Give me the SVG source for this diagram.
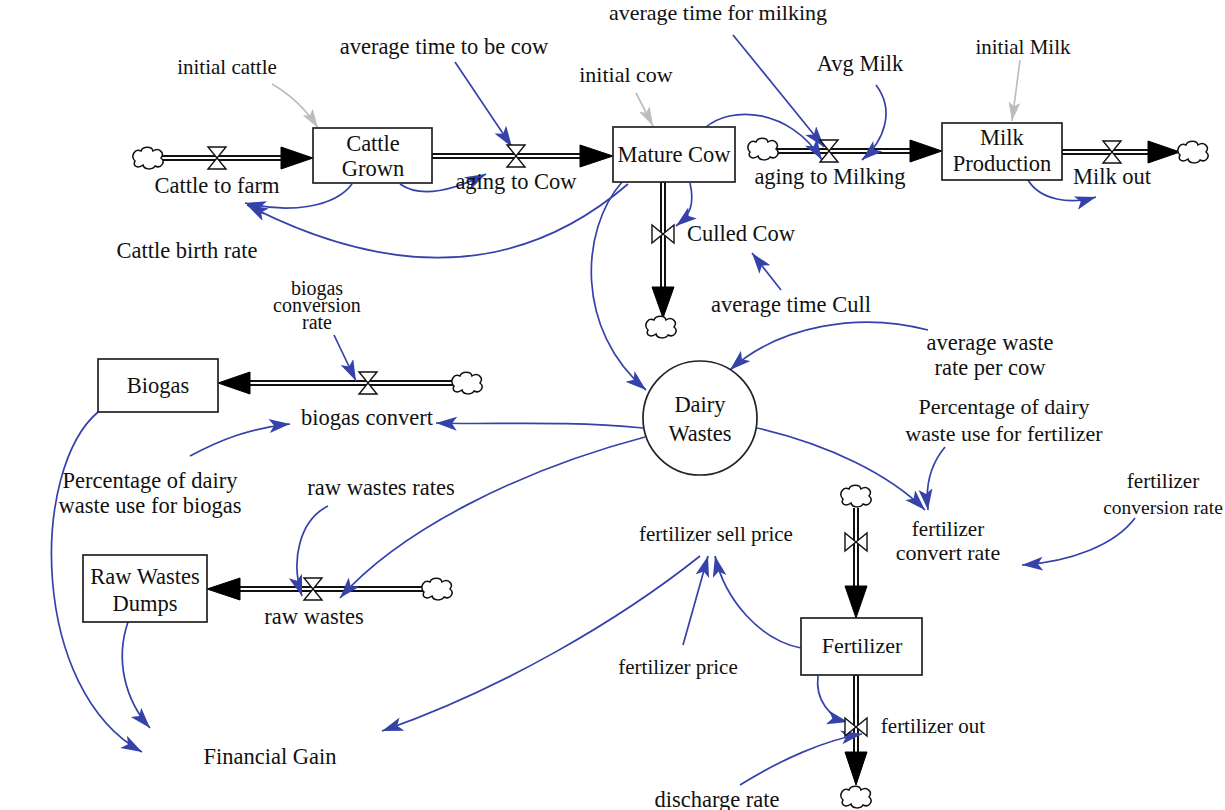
<svg xmlns="http://www.w3.org/2000/svg" width="1225" height="810" viewBox="0 0 1225 810">
  <defs>
    <style>
      text { font-family: "Liberation Serif", "Times New Roman", serif; font-size: 22.5px; fill: #111; text-anchor: middle; }
      .n { font-size: 21px; }
      .m { font-size: 22px; }
      .s { font-size: 19.5px; }
      .stack { font-size: 20px; }
      .stock { fill: #fff; stroke: #222; stroke-width: 1.7; }
      .aux { fill: #fff; stroke: #222; stroke-width: 1.7; }
      .pipe-out { fill: none; stroke: #111; stroke-width: 6; }
      .pipe-in { fill: none; stroke: #fff; stroke-width: 2; }
      .pipe-head { fill: #000; stroke: #000; stroke-width: 1; }
      .valve { fill: #fff; stroke: #111; stroke-width: 1.4; }
      .cloud { fill: #fff; stroke: #111; stroke-width: 1.5; }
      .link { fill: none; stroke: #3442aa; stroke-width: 1.7; marker-end: url(#blueHead); }
      .init { fill: none; stroke: #bdbdbd; stroke-width: 1.7; marker-end: url(#grayHead); }
    </style>
    <marker id="blueHead" markerUnits="userSpaceOnUse" markerWidth="24" markerHeight="16" refX="21" refY="7" orient="auto">
      <path d="M0,0 L21,7 L0,14 L5,7 Z" fill="#3442aa"/>
    </marker>
    <marker id="grayHead" markerUnits="userSpaceOnUse" markerWidth="24" markerHeight="16" refX="19" refY="6" orient="auto">
      <path d="M0,0 L19,6 L0,12 L4,6 Z" fill="#bdbdbd"/>
    </marker>
    <path id="cloudShape" class="cloud" d="M-13,3 C-18,-2 -13,-10 -7,-7 C-5,-12 4,-12 5,-7 C11,-11 17,-5 13,0 C18,4 13,11 7,8 C5,12 -4,12 -5,7 C-10,11 -16,8 -13,3 Z"/>
  </defs>

  <rect width="1225" height="810" fill="#fff"/>

  <!-- material flow pipes and information links -->
  <g id="connectors">
    <!-- pipes -->
    <path class="pipe-out" d="M162,158 H283"/><path class="pipe-in" d="M162,158 H283"/>
    <polygon class="pipe-head" points="281,147 313,158 281,169"/>
    <path class="pipe-out" d="M432,156 H582"/><path class="pipe-in" d="M433,156 H582"/>
    <polygon class="pipe-head" points="580,145 613,156 580,167"/>
    <path class="pipe-out" d="M777,151 H912"/><path class="pipe-in" d="M777,151 H912"/>
    <polygon class="pipe-head" points="910,140 942,151 910,162"/>
    <path class="pipe-out" d="M1062,152 H1150"/><path class="pipe-in" d="M1063,152 H1150"/>
    <polygon class="pipe-head" points="1148,141 1180,152 1148,163"/>
    <path class="pipe-out" d="M663,182 V289"/><path class="pipe-in" d="M663,183 V289"/>
    <polygon class="pipe-head" points="652,287 663,318 674,287"/>
    <path class="pipe-out" d="M453,383 H248"/><path class="pipe-in" d="M453,383 H248"/>
    <polygon class="pipe-head" points="250,372 218,383 250,394"/>
    <path class="pipe-out" d="M423,589 H238"/><path class="pipe-in" d="M423,589 H238"/>
    <polygon class="pipe-head" points="240,578 207,589 240,600"/>
    <path class="pipe-out" d="M856,508 V588"/><path class="pipe-in" d="M856,508 V588"/>
    <polygon class="pipe-head" points="845,586 856,618 867,586"/>
    <path class="pipe-out" d="M856,675 V755"/><path class="pipe-in" d="M856,676 V755"/>
    <polygon class="pipe-head" points="845,752 856,785 867,752"/>

    <!-- initial values -->
    <path class="init" d="M272,84 Q300,100 318,128"/>
    <path class="init" d="M636,93 L653,126"/>
    <path class="init" d="M1020,60 L1012,121"/>

    <!-- causal links -->
    <path class="link" d="M352,184 C335,207 290,214 245,203"/>
    <path class="link" d="M628,184 Q470,320 247,205"/>
    <path class="link" d="M400,184 C420,198 450,192 486,174"/>
    <path class="link" d="M455,62 L512,147"/>
    <path class="link" d="M733,35 L824,147"/>
    <path class="link" d="M876,85 C895,110 885,140 862,160"/>
    <path class="link" d="M705,128 C730,105 790,108 822,160"/>
    <path class="link" d="M1028,180 C1040,200 1070,205 1096,197"/>
    <path class="link" d="M690,183 C695,205 690,215 676,226"/>
    <path class="link" d="M781,290 L752,253"/>
    <path class="link" d="M622,182 C580,230 575,330 646,390"/>
    <path class="link" d="M928,330 C860,312 780,325 730,370"/>
    <path class="link" d="M643,428 C560,420 490,425 436,423"/>
    <path class="link" d="M645,437 C520,470 400,530 340,598"/>
    <path class="link" d="M757,428 C830,445 890,475 925,510"/>
    <path class="link" d="M945,447 C930,465 925,485 928,510"/>
    <path class="link" d="M1135,518 C1115,545 1070,562 1022,565"/>
    <path class="link" d="M190,456 C220,440 250,428 290,424"/>
    <path class="link" d="M334,335 L356,381"/>
    <path class="link" d="M328,506 C300,520 290,560 302,596"/>
    <path class="link" d="M98,412 C30,470 30,690 142,752"/>
    <path class="link" d="M128,622 C115,660 125,700 150,728"/>
    <path class="link" d="M700,556 C620,620 500,690 382,731"/>
    <path class="link" d="M683,645 L708,556"/>
    <path class="link" d="M801,648 C760,640 725,600 715,556"/>
    <path class="link" d="M818,676 C815,700 830,718 848,722"/>
    <path class="link" d="M740,785 C780,760 825,740 862,734"/>
  </g>

  <!-- sources and sinks -->
  <g id="cloud-cattle-source"><use href="#cloudShape" x="148" y="158"/></g>
  <g id="cloud-milking-source"><use href="#cloudShape" x="763" y="149"/></g>
  <g id="cloud-milk-sink"><use href="#cloudShape" x="1193" y="152"/></g>
  <g id="cloud-cull-sink"><use href="#cloudShape" x="661" y="327"/></g>
  <g id="cloud-biogas-source"><use href="#cloudShape" x="467" y="383"/></g>
  <g id="cloud-raw-source"><use href="#cloudShape" x="437" y="589"/></g>
  <g id="cloud-fert-source"><use href="#cloudShape" x="856" y="496"/></g>
  <g id="cloud-fert-sink"><use href="#cloudShape" x="856" y="797"/></g>

  <!-- stocks -->
  <g id="cattle-grown">
    <rect class="stock" x="313" y="128" width="119" height="55"/>
    <text x="373" y="151">Cattle</text>
    <text x="373" y="176">Grown</text>
  </g>
  <g id="mature-cow">
    <rect class="stock" x="613" y="127" width="122" height="55"/>
    <text x="674" y="162">Mature Cow</text>
  </g>
  <g id="milk-production">
    <rect class="stock" x="942" y="123" width="120" height="57"/>
    <text x="1002" y="145">Milk</text>
    <text x="1002" y="171">Production</text>
  </g>
  <g id="biogas">
    <rect class="stock" x="98" y="359" width="120" height="53"/>
    <text x="158" y="393">Biogas</text>
  </g>
  <g id="raw-wastes-dumps">
    <rect class="stock" x="83" y="555" width="124" height="67"/>
    <text x="145" y="584">Raw Wastes</text>
    <text x="145" y="611">Dumps</text>
  </g>
  <g id="fertilizer">
    <rect class="stock" x="801" y="618" width="121" height="57"/>
    <text class="m" x="862" y="653">Fertilizer</text>
  </g>
  <g id="dairy-wastes">
    <circle class="aux" cx="700" cy="418" r="57"/>
    <text x="700" y="412">Dairy</text>
    <text x="700" y="441">Wastes</text>
  </g>

  <!-- flows (valves) -->
  <g id="cattle-to-farm">
    <path class="valve" d="M208,147 H226 L208,169 H226 Z"/>
    <text x="217" y="193">Cattle to  farm</text>
  </g>
  <g id="aging-to-cow">
    <path class="valve" d="M507,145 H525 L507,167 H525 Z"/>
    <text x="516" y="189">aging to Cow</text>
  </g>
  <g id="aging-to-milking">
    <path class="valve" d="M820,140 H838 L820,162 H838 Z"/>
    <text x="830" y="184">aging to Milking</text>
  </g>
  <g id="milk-out">
    <path class="valve" d="M1103,141 H1121 L1103,163 H1121 Z"/>
    <text x="1112" y="184">Milk out</text>
  </g>
  <g id="culled-cow">
    <path class="valve" d="M652,225 V243 L674,225 V243 Z"/>
    <text x="741" y="241">Culled Cow</text>
  </g>
  <g id="biogas-convert">
    <path class="valve" d="M359,372 H377 L359,394 H377 Z"/>
    <text x="367" y="425">biogas convert</text>
  </g>
  <g id="raw-wastes">
    <path class="valve" d="M304,578 H322 L304,600 H322 Z"/>
    <text x="314" y="624">raw wastes</text>
  </g>
  <g id="fertilizer-inflow">
    <path class="valve" d="M845,533 V551 L867,533 V551 Z"/>
  </g>
  <g id="fertilizer-out">
    <path class="valve" d="M845,718 V736 L867,718 V736 Z"/>
    <text class="n" x="933" y="733">fertilizer out</text>
  </g>

  <!-- auxiliaries and constants -->
  <g id="initial-cattle"><text class="n" x="227" y="74">initial cattle</text></g>
  <g id="average-time-to-be-cow"><text x="444" y="54">average time to be cow</text></g>
  <g id="initial-cow"><text class="m" x="626" y="82">initial cow</text></g>
  <g id="average-time-for-milking"><text class="m" x="718" y="20">average time for milking</text></g>
  <g id="avg-milk"><text x="860" y="71">Avg Milk</text></g>
  <g id="initial-milk"><text class="n" x="1023" y="54">initial Milk</text></g>
  <g id="cattle-birth-rate"><text x="187" y="258">Cattle birth rate</text></g>
  <g id="average-time-cull"><text x="791" y="312">average time Cull</text></g>
  <g id="biogas-conversion-rate">
    <text class="stack" x="317" y="295">biogas</text>
    <text class="stack" x="317" y="312">conversion</text>
    <text class="stack" x="317" y="329">rate</text>
  </g>
  <g id="average-waste-rate-per-cow">
    <text x="990" y="350">average waste</text>
    <text x="990" y="375">rate per cow</text>
  </g>
  <g id="pct-waste-fertilizer">
    <text class="m" x="1004" y="414">Percentage of dairy</text>
    <text class="m" x="1004" y="441">waste use for fertilizer</text>
  </g>
  <g id="pct-waste-biogas">
    <text x="150" y="488">Percentage of dairy</text>
    <text x="150" y="513">waste use for biogas</text>
  </g>
  <g id="raw-wastes-rates"><text x="381" y="495">raw wastes rates</text></g>
  <g id="fertilizer-conversion-rate">
    <text class="n" x="1163" y="488">fertilizer</text>
    <text class="s" x="1163" y="514">conversion rate</text>
  </g>
  <g id="fertilizer-sell-price"><text class="n" x="716" y="541">fertilizer sell price</text></g>
  <g id="fertilizer-convert-rate">
    <text class="n" x="948" y="536">fertilizer</text>
    <text class="m" x="948" y="560">convert rate</text>
  </g>
  <g id="fertilizer-price"><text class="n" x="678" y="674">fertilizer price</text></g>
  <g id="financial-gain"><text x="270" y="764">Financial Gain</text></g>
  <g id="discharge-rate"><text x="717" y="807">discharge rate</text></g>
</svg>
